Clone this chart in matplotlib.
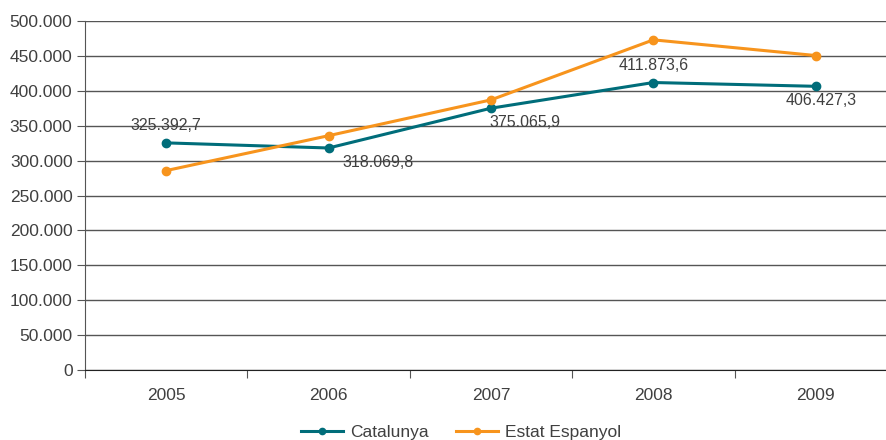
import matplotlib
matplotlib.use("Agg")
import matplotlib.pyplot as plt
from matplotlib.ticker import FuncFormatter

years = ["2005", "2006", "2007", "2008", "2009"]
catalunya = [325392.7, 318069.8, 375065.9, 411873.6, 406427.3]
estat = [285700, 335700, 387000, 473000, 450500]
labels_cat = ["325.392,7", "318.069,8", "375.065,9", "411.873,6", "406.427,3"]

TEAL = "#006d7a"
ORANGE = "#f7941d"
TXT = "#404040"

plt.rcParams["font.family"] = ["Liberation Sans", "DejaVu Sans"]

fig = plt.figure(figsize=(8.87, 4.40), dpi=100)
ax = fig.add_axes([85 / 887, 1 - 370 / 440, 812 / 887, 349 / 440])

x = list(range(len(years)))
ax.plot(x, catalunya, color=TEAL, lw=2.2, marker="o", ms=6, label="Catalunya", zorder=3)
ax.plot(x, estat, color=ORANGE, lw=2.2, marker="o", ms=6, label="Estat Espanyol", zorder=3)

# data labels (Catalunya)
offsets = [(0, 7, "center", "bottom"), (10, -5, "left", "top"), (-1, -5, "left", "top"),
           (0, 7, "center", "bottom"), (4, -5, "center", "top")]
for i, (dx, dy, ha, va) in enumerate(offsets):
    ax.annotate(labels_cat[i], (x[i], catalunya[i]), xytext=(dx, dy), textcoords="offset points",
                ha=ha, va=va, fontsize=11.5, color=TXT)

ax.set_xlim(-0.5, 4.5)
ax.set_ylim(0, 500000)
ax.set_yticks(range(0, 500001, 50000))
ax.yaxis.set_major_formatter(FuncFormatter(lambda v, p: f"{int(v):,}".replace(",", ".")))
ax.grid(axis="y", color="#555555", lw=1)
ax.set_axisbelow(True)

ax.set_xticks([i + 0.5 for i in range(-1, 5)], minor=False)
ax.set_xticklabels([])
ax.set_xticks(x, minor=True)
ax.set_xticklabels(years, minor=True)
ax.tick_params(axis="x", which="major", length=6, color="#555555", direction="out")
ax.tick_params(axis="x", which="minor", length=0, pad=13, labelsize=12.5, labelcolor=TXT)
ax.tick_params(axis="y", length=6, color="#555555", labelsize=12.5, labelcolor=TXT, pad=3)

for s in ["top", "right"]:
    ax.spines[s].set_visible(False)
ax.spines["left"].set_color("#555555")
ax.spines["bottom"].set_color("#222222")

fig.legend(loc="lower center", bbox_to_anchor=(0.52, -0.035), ncol=2, frameon=False,
           fontsize=12.5, labelcolor=TXT, handlelength=2.4, handletextpad=0.4,
           columnspacing=1.6, markerscale=0.75)

fig.savefig("out.png", dpi=100)
